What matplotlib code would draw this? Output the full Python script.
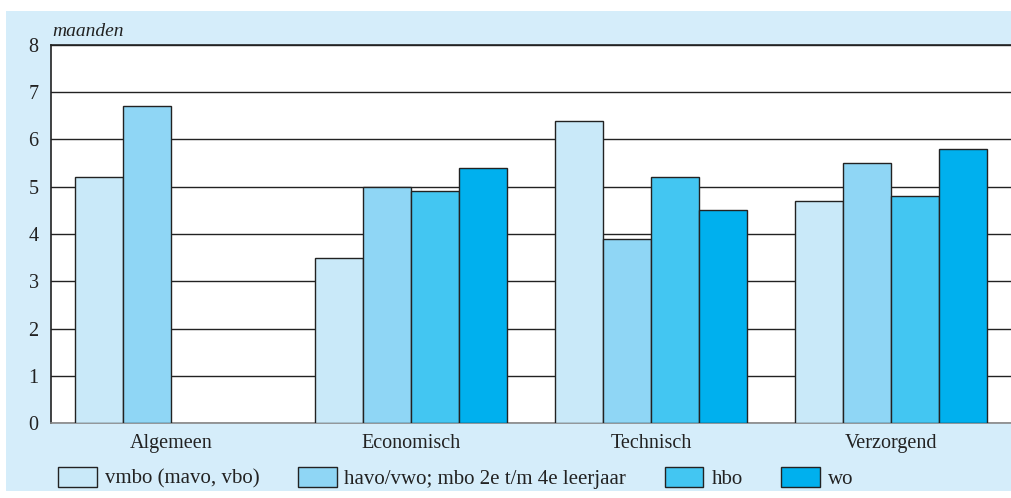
import matplotlib.pyplot as plt
import numpy as np
from matplotlib.patches import Rectangle

# gegevens
categorieen = ['Algemeen', 'Economisch', 'Technisch', 'Verzorgend']
reeksen = ['vmbo (mavo, vbo)', 'havo/vwo; mbo 2e t/m 4e leerjaar', 'hbo', 'wo']
vmbo = [5.2, 3.5, 6.4, 4.7]
havo = [6.7, 5.0, 3.9, 5.5]
hbo = [np.nan, 4.9, 5.2, 4.8]
wo = [np.nan, 5.4, 4.5, 5.8]
kleuren = ['#c9e9f9', '#8fd6f5', '#43c6f2', '#00b0ee']

plt.rcParams['font.family'] = ['Liberation Serif', 'DejaVu Serif']

W, H = 1011, 498
fig = plt.figure(figsize=(W / 100, H / 100), dpi=100)
fig.patch.set_facecolor('white')

# lichtblauw paneel
fig.patches.append(Rectangle((6 / W, 1 - 491 / H), 1 - 6 / W, 480 / H,
                             transform=fig.transFigure, facecolor='#d5edfa',
                             edgecolor='none', zorder=-5))

ax = fig.add_axes([51 / W, 75 / H, 1 - 51 / W, (423 - 45) / H])
ax.set_zorder(1)
ax.set_facecolor('white')

x = np.arange(len(categorieen))
breedte = 0.2
balken = []
for i, (waarden, naam) in enumerate(zip([vmbo, havo, hbo, wo], reeksen)):
    b = ax.bar(x + (i - 1.5) * breedte, waarden, breedte, color=kleuren[i],
               edgecolor='#222222', linewidth=1, label=naam, zorder=3)
    balken.append(b)

ax.set_xlim(-0.5, 3.5)
ax.set_ylim(0, 8)
ax.set_yticks(range(0, 9))
ax.set_xticks(x)
ax.set_xticklabels(categorieen)
ax.tick_params(axis='both', length=0, labelsize=14.5, colors='#222222')
ax.tick_params(axis='y', pad=9)
ax.tick_params(axis='x', pad=8)
ax.yaxis.grid(True, color='#222222', linewidth=1, zorder=0)
ax.set_axisbelow(True)

ax.spines['right'].set_visible(False)
ax.spines['top'].set_color('#222222')
ax.spines['left'].set_color('#222222')
ax.spines['bottom'].set_color('#888888')
for s in ax.spines.values():
    s.set_linewidth(1.2)

fig.text(52 / W, 1 - 32 / H, 'maanden', style='italic', fontsize=14,
         va='center', ha='left', color='#222222')

fig.legend(handles=balken, labels=reeksen, loc='center left',
           bbox_to_anchor=(58 / W, 1 - 478 / H), ncol=4, frameon=False,
           fontsize=15, handlelength=1.87, handleheight=1.06,
           handletextpad=0.38, columnspacing=1.83, borderpad=0,
           borderaxespad=0, labelcolor='#222222')

fig.savefig('out.png', dpi=100)
